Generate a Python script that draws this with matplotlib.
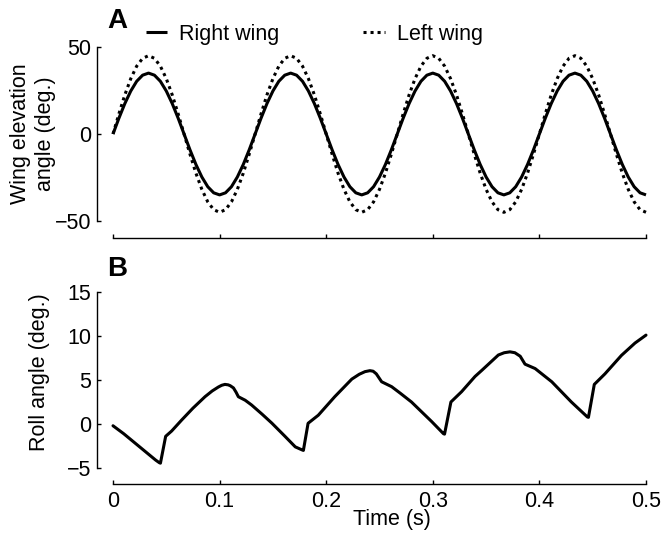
import matplotlib
matplotlib.use("Agg")
import matplotlib.pyplot as plt
import numpy as np

plt.rcParams['font.family'] = ['Liberation Sans', 'DejaVu Sans']

# ---- Panel A data: wing elevation angles (deg.) ----
t_wing = np.linspace(0, 0.5, 91)
right_wing = [0, 9.1, 17.5, 24.7, 30.3, 33.8, 35, 33.8, 30.3, 24.7, 17.5, 9.1,
              0, -9.1, -17.5, -24.7, -30.3, -33.8, -35, -33.8, -30.3, -24.7, -17.5, -9.1,
              0, 9.1, 17.5, 24.7, 30.3, 33.8, 35, 33.8, 30.3, 24.7, 17.5, 9.1,
              0, -9.1, -17.5, -24.7, -30.3, -33.8, -35, -33.8, -30.3, -24.7, -17.5, -9.1,
              0, 9.1, 17.5, 24.7, 30.3, 33.8, 35, 33.8, 30.3, 24.7, 17.5, 9.1,
              0, -9.1, -17.5, -24.7, -30.3, -33.8, -35, -33.8, -30.3, -24.7, -17.5, -9.1,
              0, 9.1, 17.5, 24.7, 30.3, 33.8, 35, 33.8, 30.3, 24.7, 17.5, 9.1,
              0, -9.1, -17.5, -24.7, -30.3, -33.8, -35]
left_wing = [0, 11.6, 22.5, 31.8, 39.0, 43.5, 45, 43.5, 39.0, 31.8, 22.5, 11.6,
             0, -11.6, -22.5, -31.8, -39.0, -43.5, -45, -43.5, -39.0, -31.8, -22.5, -11.6,
             0, 11.6, 22.5, 31.8, 39.0, 43.5, 45, 43.5, 39.0, 31.8, 22.5, 11.6,
             0, -11.6, -22.5, -31.8, -39.0, -43.5, -45, -43.5, -39.0, -31.8, -22.5, -11.6,
             0, 11.6, 22.5, 31.8, 39.0, 43.5, 45, 43.5, 39.0, 31.8, 22.5, 11.6,
             0, -11.6, -22.5, -31.8, -39.0, -43.5, -45, -43.5, -39.0, -31.8, -22.5, -11.6,
             0, 11.6, 22.5, 31.8, 39.0, 43.5, 45, 43.5, 39.0, 31.8, 22.5, 11.6,
             0, -11.6, -22.5, -31.8, -39.0, -43.5, -45]

# ---- Panel B data: roll angle (deg.) ----
t_roll = [0.000, 0.010, 0.020, 0.030, 0.040, 0.0435, 0.0445, 0.0494, 0.055, 0.0644,
          0.075, 0.0863, 0.093, 0.0988, 0.102, 0.105, 0.108, 0.110, 0.113, 0.1155, 0.1176,
          0.124, 0.130, 0.140, 0.149,
          0.161, 0.171, 0.1775, 0.1786, 0.183, 0.1926, 0.208, 0.224, 0.231, 0.2364, 0.241,
          0.244, 0.247, 0.252, 0.2614, 0.270, 0.280, 0.299, 0.3100, 0.311, 0.317, 0.327, 0.3396,
          0.346, 0.3615, 0.367, 0.3724, 0.377, 0.382, 0.3865, 0.396, 0.4116, 0.430, 0.445, 0.446,
          0.4515, 0.4615, 0.477, 0.4897, 0.500]
roll = [-0.2, -1.1, -2.1, -3.1, -4.1, -4.4, -4.45, -1.4, -0.8, 0.45,
        1.8, 3.1, 3.75, 4.2, 4.4, 4.5, 4.45, 4.35, 4.1, 3.6, 3.1,
        2.7, 2.16, 1.1, 0.1,
        -1.36, -2.6, -2.95, -3.0, 0.08, 1.0, 3.1, 5.1, 5.65, 5.95, 6.06,
        6.0, 5.7, 4.8, 4.24, 3.45, 2.5, 0.27, -1.1, -1.15, 2.5, 3.67, 5.4,
        6.1, 7.84, 8.1, 8.2, 8.1, 7.7, 6.8, 6.3, 4.8, 2.5, 0.8, 0.76,
        4.5, 5.7, 7.8, 9.2, 10.1]

x_ticks = [0, 0.1, 0.2, 0.3, 0.4, 0.5]
x_ticklabels = ['0', '0.1', '0.2', '0.3', '0.4', '0.5']
yA_ticks = [-50, 0, 50]
yB_ticks = [-5, 0, 5, 10, 15]

FS = 15.5
W, H = 666, 537
fig = plt.figure(figsize=(W / 100, H / 100), dpi=100)
ax1 = fig.add_axes([113 / W, 1 - 221 / H, 533 / W, 174 / H])
ax2 = fig.add_axes([113 / W, 1 - 468 / H, 533 / W, 176 / H])

lw = 2.2
l1, = ax1.plot(t_wing, right_wing, color='black', lw=lw, label='Right wing',
               clip_on=False, solid_capstyle='butt')
l2, = ax1.plot(t_wing, left_wing, color='black', lw=lw, linestyle=(0, (1, 1.3)),
               label='Left wing', clip_on=False)
ax2.plot(t_roll, roll, color='black', lw=lw, clip_on=False,
         solid_joinstyle='round', solid_capstyle='round')

for ax, yt, ylim, off in [(ax1, yA_ticks, (-50, 50), 12.2), (ax2, yB_ticks, (-5, 15), 11.5)]:
    ax.set_xlim(0, 0.5)
    ax.set_ylim(*ylim)
    ax.set_xticks(x_ticks)
    ax.set_xticklabels(x_ticklabels)
    ax.set_yticks(yt)
    ax.spines['top'].set_visible(False)
    ax.spines['right'].set_visible(False)
    ax.spines['left'].set_position(('outward', 11.5))
    ax.spines['bottom'].set_position(('outward', off))
    ax.spines['left'].set_bounds(*ylim)
    ax.spines['bottom'].set_bounds(0, 0.5)
    for s in ['left', 'bottom']:
        ax.spines[s].set_linewidth(1.0)
    ax.tick_params(direction='in', length=3, width=1.0, labelsize=FS)
    ax.tick_params(axis='x', pad=5)
    ax.tick_params(axis='y', pad=4)
    ax.patch.set_alpha(0)

ax1.tick_params(labelbottom=False)

ax1.set_ylabel('Wing elevation\nangle (deg.)', fontsize=FS, linespacing=1.2)
ax1.yaxis.label.set_va('center')
ax1.yaxis.set_label_coords((33 - 113) / 533, 0.5)

ax2.set_ylabel('Roll angle (deg.)', fontsize=FS)
ax2.yaxis.label.set_va('center')
ax2.yaxis.set_label_coords((40 - 113) / 533, (468 - 372.5) / 176)

ax2.set_xlabel('Time (s)', fontsize=FS)
ax2.xaxis.label.set_va('center')
ax2.xaxis.set_label_coords((392 - 113) / 533, -(520 - 468) / 176)

fig.text(107 / W, 1 - 28.3 / H, 'A', fontsize=20, fontweight='bold', va='baseline', ha='left')
fig.text(107 / W, 1 - 276.5 / H, 'B', fontsize=20, fontweight='bold', va='baseline', ha='left')

fig.legend(handles=[l1, l2], loc='center left', bbox_to_anchor=(145.7 / W, 1 - 34.3 / H),
           ncol=2, frameon=False, fontsize=FS, handlelength=1.0, handletextpad=0.55,
           columnspacing=3.9, borderpad=0, borderaxespad=0)

fig.savefig('out.png', dpi=100)
